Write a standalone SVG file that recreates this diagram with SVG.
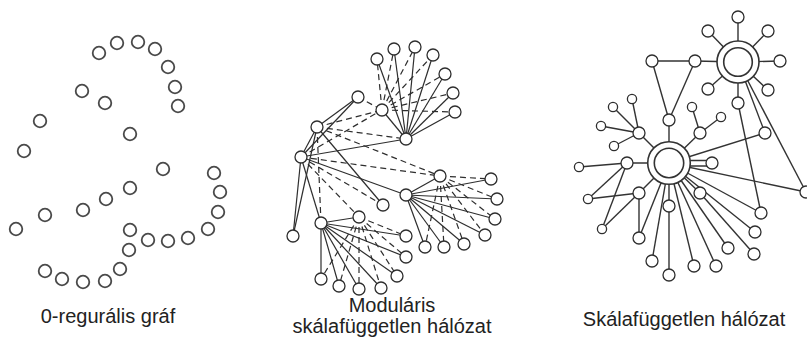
<svg xmlns="http://www.w3.org/2000/svg" width="807" height="338" viewBox="0 0 807 338">
<style>
.p1 circle{fill:#fff;stroke:#4a4a4a;stroke-width:1.8}
.nd{fill:#fff;stroke:#2e2e2e;stroke-width:1.3}
.sm{fill:#fff;stroke:#2e2e2e;stroke-width:1.3}
.s{stroke:#2e2e2e;stroke-width:1.2;fill:none}
.d{stroke:#2e2e2e;stroke-width:1.2;fill:none;stroke-dasharray:6 4}
.t{stroke:#333;stroke-width:1.4;fill:none}
.hub{fill:#fff;stroke:#333;stroke-width:1.6}
.lbl{font-family:"Liberation Sans",Arial,sans-serif;font-size:20px;fill:#222;text-anchor:middle}
</style>
<rect width="807" height="338" fill="#fff"/>

<!-- Panel 1: 0-regular graph -->
<g class="p1">
<g id="r1"><circle cx="99" cy="53" r="6.3"/></g>
<g id="r2"><circle cx="117" cy="43" r="6.3"/></g>
<g id="r3"><circle cx="138" cy="42" r="6.3"/></g>
<g id="r4"><circle cx="155" cy="49" r="6.3"/></g>
<g id="r5"><circle cx="168" cy="67" r="6.3"/></g>
<g id="r6"><circle cx="175" cy="87" r="6.3"/></g>
<g id="r7"><circle cx="178" cy="106" r="6.3"/></g>
<g id="r8"><circle cx="82" cy="91" r="6.3"/></g>
<g id="r9"><circle cx="105" cy="103" r="6.3"/></g>
<g id="r10"><circle cx="40" cy="121" r="6.3"/></g>
<g id="r11"><circle cx="24" cy="151" r="6.3"/></g>
<g id="r12"><circle cx="130" cy="134" r="6.3"/></g>
<g id="r13"><circle cx="163" cy="169" r="6.3"/></g>
<g id="r14"><circle cx="214" cy="173" r="6.3"/></g>
<g id="r15"><circle cx="220" cy="192" r="6.3"/></g>
<g id="r16"><circle cx="218" cy="212" r="6.3"/></g>
<g id="r17"><circle cx="208" cy="229" r="6.3"/></g>
<g id="r18"><circle cx="188" cy="238" r="6.3"/></g>
<g id="r19"><circle cx="168" cy="241" r="6.3"/></g>
<g id="r20"><circle cx="148" cy="240" r="6.3"/></g>
<g id="r21"><circle cx="130" cy="230" r="6.3"/></g>
<g id="r22"><circle cx="129" cy="250" r="6.3"/></g>
<g id="r23"><circle cx="120" cy="269" r="6.3"/></g>
<g id="r24"><circle cx="105" cy="281" r="6.3"/></g>
<g id="r25"><circle cx="83" cy="282" r="6.3"/></g>
<g id="r26"><circle cx="62" cy="279" r="6.3"/></g>
<g id="r27"><circle cx="45" cy="271" r="6.3"/></g>
<g id="r28"><circle cx="130" cy="188" r="6.3"/></g>
<g id="r29"><circle cx="106" cy="199" r="6.3"/></g>
<g id="r30"><circle cx="83" cy="210" r="6.3"/></g>
<g id="r31"><circle cx="45" cy="215" r="6.3"/></g>
<g id="r32"><circle cx="16" cy="229" r="6.3"/></g>
</g>

<!-- Panel 2: modular scale-free network connectors -->
<g id="connectors-modular">
<!-- central module -->
<line class="s" x1="301" y1="157" x2="317" y2="127"/>
<line class="s" x1="301" y1="157" x2="293" y2="236"/>
<line class="s" x1="317" y1="127" x2="293" y2="236"/>
<line class="s" x1="301" y1="157" x2="358" y2="97"/>
<line class="s" x1="317" y1="127" x2="358" y2="97"/>
<line class="s" x1="301" y1="157" x2="406" y2="139"/>
<line class="s" x1="301" y1="157" x2="406" y2="195"/>
<line class="s" x1="301" y1="157" x2="321" y2="223"/>
<line class="s" x1="317" y1="127" x2="383" y2="205"/>
<line class="d" x1="317" y1="127" x2="382" y2="110"/>
<line class="d" x1="301" y1="157" x2="382" y2="110"/>
<line class="d" x1="358" y1="97" x2="382" y2="110"/>
<line class="d" x1="317" y1="127" x2="406" y2="139"/>
<line class="d" x1="301" y1="157" x2="440" y2="176"/>
<line class="d" x1="317" y1="127" x2="440" y2="176"/>
<line class="d" x1="301" y1="157" x2="359" y2="217"/>
<line class="d" x1="317" y1="127" x2="321" y2="223"/>
<line class="d" x1="301" y1="157" x2="383" y2="205"/>
<!-- top module -->
<line class="s" x1="406" y1="139" x2="382" y2="110"/>
<line class="s" x1="406" y1="139" x2="377" y2="59"/>
<line class="s" x1="406" y1="139" x2="394" y2="49"/>
<line class="s" x1="406" y1="139" x2="415" y2="47"/>
<line class="s" x1="406" y1="139" x2="433" y2="55"/>
<line class="s" x1="406" y1="139" x2="445" y2="74"/>
<line class="s" x1="406" y1="139" x2="453" y2="93"/>
<line class="s" x1="406" y1="139" x2="455" y2="112"/>
<line class="d" x1="382" y1="110" x2="377" y2="59"/>
<line class="d" x1="382" y1="110" x2="394" y2="49"/>
<line class="d" x1="382" y1="110" x2="415" y2="47"/>
<line class="d" x1="382" y1="110" x2="433" y2="55"/>
<line class="d" x1="382" y1="110" x2="445" y2="74"/>
<line class="d" x1="382" y1="110" x2="453" y2="93"/>
<line class="d" x1="382" y1="110" x2="455" y2="112"/>
<!-- right module -->
<line class="s" x1="406" y1="195" x2="440" y2="176"/>
<line class="s" x1="406" y1="195" x2="491" y2="179"/>
<line class="s" x1="406" y1="195" x2="497" y2="199"/>
<line class="s" x1="406" y1="195" x2="495" y2="219"/>
<line class="s" x1="406" y1="195" x2="485" y2="235"/>
<line class="s" x1="406" y1="195" x2="464" y2="244"/>
<line class="s" x1="406" y1="195" x2="444" y2="247"/>
<line class="s" x1="406" y1="195" x2="425" y2="247"/>
<line class="d" x1="440" y1="176" x2="491" y2="179"/>
<line class="d" x1="440" y1="176" x2="497" y2="199"/>
<line class="d" x1="440" y1="176" x2="495" y2="219"/>
<line class="d" x1="440" y1="176" x2="485" y2="235"/>
<line class="d" x1="440" y1="176" x2="464" y2="244"/>
<line class="d" x1="440" y1="176" x2="444" y2="247"/>
<line class="d" x1="440" y1="176" x2="425" y2="247"/>
<!-- bottom module -->
<line class="s" x1="321" y1="223" x2="359" y2="217"/>
<line class="s" x1="321" y1="223" x2="406" y2="236"/>
<line class="s" x1="321" y1="223" x2="406" y2="257"/>
<line class="s" x1="321" y1="223" x2="397" y2="276"/>
<line class="s" x1="321" y1="223" x2="381" y2="288"/>
<line class="s" x1="321" y1="223" x2="359" y2="289"/>
<line class="s" x1="321" y1="223" x2="339" y2="286"/>
<line class="s" x1="321" y1="223" x2="321" y2="279"/>
<line class="d" x1="359" y1="217" x2="406" y2="236"/>
<line class="d" x1="359" y1="217" x2="406" y2="257"/>
<line class="d" x1="359" y1="217" x2="397" y2="276"/>
<line class="d" x1="359" y1="217" x2="381" y2="288"/>
<line class="d" x1="359" y1="217" x2="359" y2="289"/>
<line class="d" x1="359" y1="217" x2="339" y2="286"/>
<line class="d" x1="359" y1="217" x2="321" y2="279"/>
</g>

<g id="nodes-modular">
<g id="mA"><circle class="nd" cx="301" cy="157" r="6"/></g>
<g id="mB"><circle class="nd" cx="317" cy="127" r="6"/></g>
<g id="mC"><circle class="nd" cx="358" cy="97" r="6"/></g>
<g id="mD"><circle class="nd" cx="382" cy="110" r="6"/></g>
<g id="mE"><circle class="nd" cx="406" cy="139" r="6"/></g>
<g id="mF"><circle class="nd" cx="440" cy="176" r="6"/></g>
<g id="mG"><circle class="nd" cx="406" cy="195" r="6"/></g>
<g id="mH"><circle class="nd" cx="383" cy="205" r="6"/></g>
<g id="mI"><circle class="nd" cx="359" cy="217" r="6"/></g>
<g id="mJ"><circle class="nd" cx="321" cy="223" r="6"/></g>
<g id="mK"><circle class="nd" cx="293" cy="236" r="6"/></g>
<g id="mT1"><circle class="nd" cx="377" cy="59" r="6"/></g>
<g id="mT2"><circle class="nd" cx="394" cy="49" r="6"/></g>
<g id="mT3"><circle class="nd" cx="415" cy="47" r="6"/></g>
<g id="mT4"><circle class="nd" cx="433" cy="55" r="6"/></g>
<g id="mT5"><circle class="nd" cx="445" cy="74" r="6"/></g>
<g id="mT6"><circle class="nd" cx="453" cy="93" r="6"/></g>
<g id="mT7"><circle class="nd" cx="455" cy="112" r="6"/></g>
<g id="mR1"><circle class="nd" cx="491" cy="179" r="6"/></g>
<g id="mR2"><circle class="nd" cx="497" cy="199" r="6"/></g>
<g id="mR3"><circle class="nd" cx="495" cy="219" r="6"/></g>
<g id="mR4"><circle class="nd" cx="485" cy="235" r="6"/></g>
<g id="mR5"><circle class="nd" cx="464" cy="244" r="6"/></g>
<g id="mR6"><circle class="nd" cx="444" cy="247" r="6"/></g>
<g id="mR7"><circle class="nd" cx="425" cy="247" r="6"/></g>
<g id="mL1"><circle class="nd" cx="406" cy="236" r="6"/></g>
<g id="mL2"><circle class="nd" cx="406" cy="257" r="6"/></g>
<g id="mL3"><circle class="nd" cx="397" cy="276" r="6"/></g>
<g id="mL4"><circle class="nd" cx="381" cy="288" r="6"/></g>
<g id="mL5"><circle class="nd" cx="359" cy="289" r="6"/></g>
<g id="mL6"><circle class="nd" cx="339" cy="286" r="6"/></g>
<g id="mL7"><circle class="nd" cx="321" cy="279" r="6"/></g>
</g>

<!-- Panel 3: scale-free network connectors -->
<g id="connectors-scalefree">
<line class="t" x1="738" y1="62" x2="738" y2="17"/>
<line class="t" x1="738" y1="62" x2="708" y2="31"/>
<line class="t" x1="738" y1="62" x2="768" y2="31"/>
<line class="t" x1="738" y1="62" x2="780" y2="61"/>
<line class="t" x1="738" y1="62" x2="768" y2="90"/>
<line class="t" x1="738" y1="62" x2="708" y2="89"/>
<line class="t" x1="738" y1="62" x2="738" y2="103"/>
<line class="t" x1="738" y1="62" x2="695" y2="61"/>
<line class="t" x1="738" y1="62" x2="765" y2="133"/>
<line class="t" x1="738" y1="62" x2="806" y2="192"/>
<line class="t" x1="738" y1="103" x2="761" y2="213"/>
<line class="t" x1="695" y1="61" x2="652" y2="61"/>
<line class="t" x1="652" y1="61" x2="669" y2="120"/>
<line class="t" x1="695" y1="61" x2="669" y2="120"/>
<line class="t" x1="669" y1="120" x2="669" y2="163"/>
<line class="t" x1="669" y1="163" x2="765" y2="133"/>
<line class="t" x1="669" y1="160.5" x2="712" y2="160.5"/>
<line class="t" x1="669" y1="166" x2="712" y2="166"/>
<line class="t" x1="669" y1="163" x2="806" y2="192"/>
<line class="t" x1="669" y1="163" x2="700" y2="133"/>
<line class="t" x1="700" y1="133" x2="692" y2="107"/>
<line class="t" x1="700" y1="133" x2="721" y2="117"/>
<line class="t" x1="669" y1="163" x2="639" y2="133"/>
<line class="t" x1="639" y1="133" x2="632" y2="99"/>
<line class="t" x1="639" y1="133" x2="613" y2="107"/>
<line class="t" x1="639" y1="133" x2="601" y2="126"/>
<line class="t" x1="639" y1="133" x2="614" y2="146"/>
<line class="t" x1="669" y1="163" x2="627" y2="163"/>
<line class="t" x1="627" y1="163" x2="579" y2="167"/>
<line class="t" x1="627" y1="163" x2="588" y2="199"/>
<line class="t" x1="627" y1="163" x2="602" y2="229"/>
<line class="t" x1="669" y1="163" x2="639" y2="193"/>
<line class="t" x1="639" y1="193" x2="588" y2="199"/>
<line class="t" x1="639" y1="193" x2="602" y2="229"/>
<line class="t" x1="639" y1="193" x2="639" y2="238"/>
<line class="t" x1="639" y1="238" x2="669" y2="163"/>
<line class="t" x1="669" y1="163" x2="652" y2="261"/>
<line class="t" x1="669" y1="163" x2="669" y2="275"/>
<line class="t" x1="669" y1="163" x2="694" y2="266"/>
<line class="t" x1="669" y1="163" x2="716" y2="266"/>
<line class="t" x1="669" y1="163" x2="728" y2="248"/>
<line class="t" x1="669" y1="163" x2="700" y2="193"/>
<line class="t" x1="700" y1="193" x2="754" y2="254"/>
<line class="t" x1="669" y1="163" x2="755" y2="232"/>
<line class="t" x1="669" y1="163" x2="761" y2="213"/>
</g>

<g id="nodes-scalefree">
<g id="hub1"><circle class="hub" cx="738" cy="62" r="21"/><circle class="hub" cx="738" cy="62" r="14.3"/></g>
<g id="hub2"><circle class="hub" cx="669" cy="163" r="21.3"/><circle class="hub" cx="669" cy="163" r="14.7"/></g>
<g id="s1"><circle class="nd" cx="738" cy="17" r="6"/></g>
<g id="s2"><circle class="nd" cx="708" cy="31" r="6"/></g>
<g id="s3"><circle class="nd" cx="768" cy="31" r="6"/></g>
<g id="s4"><circle class="nd" cx="780" cy="61" r="6"/></g>
<g id="s5"><circle class="nd" cx="768" cy="90" r="6"/></g>
<g id="s6"><circle class="nd" cx="708" cy="89" r="6"/></g>
<g id="s7"><circle class="nd" cx="738" cy="103" r="6"/></g>
<g id="s8"><circle class="nd" cx="695" cy="61" r="6"/></g>
<g id="s9"><circle class="nd" cx="652" cy="61" r="6"/></g>
<g id="n1"><circle class="nd" cx="669" cy="120" r="6"/></g>
<g id="n2"><circle class="nd" cx="765" cy="133" r="6"/></g>
<g id="n3"><circle class="nd" cx="806" cy="192" r="6"/></g>
<g id="n4"><circle class="nd" cx="712" cy="163" r="6"/></g>
<g id="n5"><circle class="nd" cx="700" cy="133" r="6"/></g>
<g id="n6"><circle class="sm" cx="692" cy="107" r="4.6"/></g>
<g id="n7"><circle class="sm" cx="721" cy="117" r="4.6"/></g>
<g id="n8"><circle class="nd" cx="639" cy="133" r="6"/></g>
<g id="n9"><circle class="sm" cx="632" cy="99" r="4.6"/></g>
<g id="n10"><circle class="sm" cx="613" cy="107" r="4.6"/></g>
<g id="n11"><circle class="sm" cx="601" cy="126" r="4.6"/></g>
<g id="n12"><circle class="sm" cx="614" cy="146" r="4.6"/></g>
<g id="n13"><circle class="nd" cx="627" cy="163" r="6"/></g>
<g id="n14"><circle class="sm" cx="579" cy="167" r="4.6"/></g>
<g id="n15"><circle class="sm" cx="588" cy="199" r="4.6"/></g>
<g id="n16"><circle class="sm" cx="602" cy="229" r="4.6"/></g>
<g id="n17"><circle class="nd" cx="639" cy="193" r="6"/></g>
<g id="n18"><circle class="nd" cx="639" cy="238" r="6"/></g>
<g id="b1"><circle class="nd" cx="652" cy="261" r="6"/></g>
<g id="b2"><circle class="nd" cx="669" cy="275" r="6"/></g>
<g id="b3"><circle class="nd" cx="694" cy="266" r="6"/></g>
<g id="b4"><circle class="nd" cx="716" cy="266" r="6"/></g>
<g id="b5"><circle class="nd" cx="728" cy="248" r="6"/></g>
<g id="b6"><circle class="nd" cx="754" cy="254" r="6"/></g>
<g id="b7"><circle class="nd" cx="755" cy="232" r="6"/></g>
<g id="b8"><circle class="nd" cx="761" cy="213" r="6"/></g>
<g id="b9"><circle class="nd" cx="669" cy="206" r="6"/></g>
<g id="b10"><circle class="nd" cx="700" cy="193" r="6"/></g>
</g>

<g id="labels">
<text class="lbl" x="108" y="323">0-regurális gráf</text>
<text class="lbl" x="392" y="312">Moduláris</text>
<text class="lbl" x="392" y="333">skálafüggetlen hálózat</text>
<text class="lbl" x="684" y="326">Skálafüggetlen hálózat</text>
</g>
</svg>
